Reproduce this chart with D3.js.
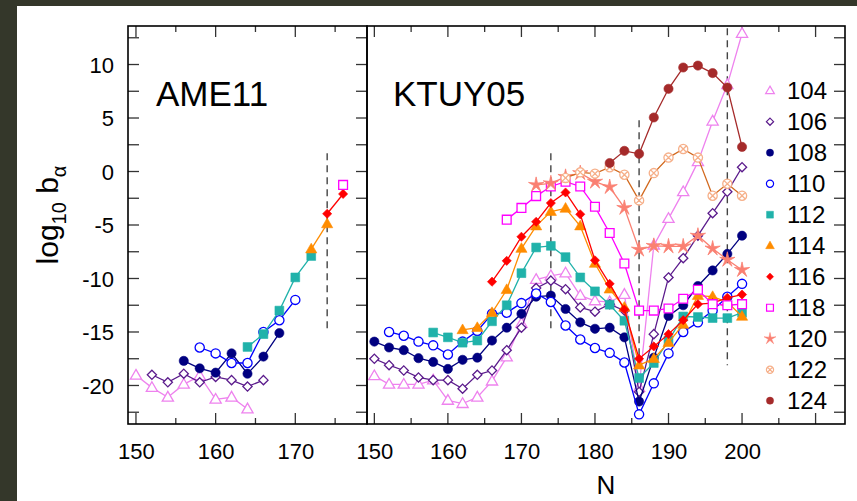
<!DOCTYPE html>
<html><head><meta charset="utf-8">
<script src="https://cdn.jsdelivr.net/npm/d3@7"></script>
<style>
html,body{margin:0;padding:0;background:#34372a;}
svg{display:block;}
text{font-family:"Liberation Sans",Arial,sans-serif;fill:#000;}
</style></head>
<body>
<svg id="chart" width="857" height="501"></svg>
<script>
// ---- data (log10 b_alpha vs neutron number N; one series per proton number Z) ----
const seriesZ = [104,106,108,110,112,114,116,118,120,122,124];
const nLeft  = [150,152,154,156,158,160,162,164,166,168,170,172,174,176];
const nRight = [150,152,154,156,158,160,162,164,166,168,170,172,174,176,178,180,182,184,186,188,190,192,194,196,198,200];

// AME11 panel
const a104 = [-19.05,-20.2,-21.1,-19.9,-19.1,-21.3,-21.1,-22.2,null,null,null,null,null,null];
const a106 = [null,-19.0,-19.7,-18.9,-19.7,-19.2,-19.5,-20.1,-19.5,null,null,null,null,null];
const a108 = [null,null,null,-17.7,-18.4,-18.8,-17.0,-18.9,-17.3,-15.1,null,null,null,null];
const a110 = [null,null,null,null,-16.45,-17.0,-17.9,-17.9,-15.0,-13.9,-12.0,null,null,null];
const a112 = [null,null,null,null,null,null,null,-16.4,-15.2,-13.0,-9.9,-7.9,null,null];
const a114 = [null,null,null,null,null,null,null,null,null,null,null,-7.25,-4.9,null];
const a116 = [null,null,null,null,null,null,null,null,null,null,null,null,-3.95,-2.1];
const a118 = [null,null,null,null,null,null,null,null,null,null,null,null,null,-1.25];

// KTUY05 panel
const k104 = [-19.1,-19.9,-19.9,-19.9,-19.5,-21.4,-21.7,-21.1,-19.6,-17.35,-14.2,-10.1,-9.75,-9.5,-11.6,-12.1,-12.2,-11.5,-20.2,-6.9,-4.4,-1.9,0.9,4.7,8.1,12.9];
const k106 = [-17.5,-18.1,-18.6,-19.25,-19.5,-19.5,-20.3,-19.0,-18.6,-16.7,-14.6,-10.9,-10.2,-11.0,-12.7,-13.1,-12.4,-13.0,-20.6,-15.2,-9.9,-8.1,-6.0,-3.9,-1.9,0.4];
const k108 = [-15.9,-16.45,-16.7,-17.45,-17.8,-18.45,-17.6,-17.4,-15.8,-14.6,-13.3,-11.7,-11.6,-12.85,-14.1,-14.7,-14.6,-15.5,-21.5,-17.4,-13.5,-12.5,-10.7,-9.25,-7.7,-6.0];
const k110 = [null,-15.0,-15.35,-15.9,-16.25,-17.1,-15.9,-14.9,-13.3,-13.2,-12.3,-11.4,-12.2,-14.4,-15.7,-16.5,-16.95,-17.85,-22.7,-19.8,-17.0,-15.0,-14.1,-13.0,-11.7,-10.5];
const k112 = [null,null,null,null,-15.05,-15.5,-16.0,-15.8,-14.0,-12.5,-9.5,-7.1,-6.95,-8.0,-9.9,-11.2,-12.45,-13.95,-19.3,-17.9,-15.8,-13.55,-13.6,-13.7,-13.7,-13.2];
const k114 = [null,null,null,null,null,null,-14.8,-14.6,-13.2,-11.05,-7.2,-5.1,-3.75,-3.45,-5.1,-8.6,-11.0,-12.7,-18.1,-17.5,-16.0,-14.3,-11.6,-11.7,-12.2,-13.55];
const k116 = [null,null,null,null,null,null,null,null,-10.3,-8.35,-6.1,-4.7,-2.95,-1.96,-4.0,-8.3,-10.5,-12.9,-17.5,-16.35,-15.2,-13.9,-12.4,-12.3,-11.8,-11.5];
const k118 = [null,null,null,null,null,null,null,null,null,-4.5,-3.4,-2.3,-1.4,-0.95,-1.4,-3.3,-5.75,-8.6,-13.0,-13.0,-12.8,-11.9,-11.05,-12.4,-12.5,-12.4];
const k120 = [null,null,null,null,null,null,null,null,null,null,null,-1.25,-1.1,-0.5,-0.15,-0.95,-1.45,-3.4,-7.3,-6.95,-7.0,-7.0,-6.0,-7.2,-8.25,-9.2];
const k122 = [null,null,null,null,null,null,null,null,null,null,null,null,null,-0.6,-0.08,-0.2,0.4,-0.3,-2.7,-0.15,1.3,2.1,1.3,-2.27,-1.15,-2.27];
const k124 = [null,null,null,null,null,null,null,null,null,null,null,null,null,null,null,null,0.79,1.93,1.65,5.05,7.73,9.72,9.9,9.2,7.85,2.3];

// shell-closure guide lines (N, from, to)
const guideLeft  = [[174, 1.7, -15.1]];
const guideRight = [[174, 1.7, -15.0], [186, 4.8, -17.4], [198, 13.4, -18.1]];

const xTicksLeft  = [150,155,160,165,170,175];
const xLabelsLeft = [150,160,170];
const xTicksRight = [150,155,160,165,170,175,180,185,190,195,200,205,210];
const xLabelsRight= [150,160,170,180,190,200];
const yTicks  = [-22.5,-20,-17.5,-15,-12.5,-10,-7.5,-5,-2.5,0,2.5,5,7.5,10,12.5];
const yLabels = [-20,-15,-10,-5,0,5,10];

const panelNames = ["AME11","KTUY05"];

// ---- style per series ----
const styles = {
  104:{c:"#ee82ee", lc:"#ee82ee", m:"tri",  open:true},
  106:{c:"#5b1b8c", lc:"#5b1b8c", m:"dia",  open:true},
  108:{c:"#000080", lc:"#000080", m:"circ", open:false},
  110:{c:"#0000ff", lc:"#0000ff", m:"circ", open:true},
  112:{c:"#20b2aa", lc:"#20b2aa", m:"sq",   open:false},
  114:{c:"#ff8c00", lc:"#ff8c00", m:"tri",  open:false},
  116:{c:"#ff0000", lc:"#ff0000", m:"dia",  open:false},
  118:{c:"#ff00ff", lc:"#ff00ff", m:"sq",   open:true},
  120:{c:"#fa8072", lc:"#fa8072", m:"star", open:false},
  122:{c:"#f6b08a", lc:"#d2691e", m:"circx",open:true},
  124:{c:"#a52a2a", lc:"#a52a2a", m:"circ", open:false}
};

function markerPath(type, s){
  const p = d3.path();
  if(type==="circ" || type==="circx"){
    const r = 4.6*s; p.moveTo(r,0); p.arc(0,0,r,0,2*Math.PI);
    if(type==="circx"){ const a=r*0.7; p.moveTo(-a,-a); p.lineTo(a,a); p.moveTo(-a,a); p.lineTo(a,-a); }
  } else if(type==="sq"){
    const h=4.4*s; p.rect(-h,-h,2*h,2*h);
  } else if(type==="tri"){
    const h=5.6*s; p.moveTo(0,-h*1.05); p.lineTo(h*1.0,h*0.68); p.lineTo(-h*1.0,h*0.68); p.closePath();
  } else if(type==="dia"){
    const h=4.6*s; p.moveTo(0,-h); p.lineTo(h,0); p.lineTo(0,h); p.lineTo(-h,0); p.closePath();
  } else if(type==="star"){
    const R=8*s, r=2.3*s;
    for(let i=0;i<10;i++){
      const ang = -Math.PI/2 + i*Math.PI/5;
      const rr = i%2===0?R:r;
      const x=rr*Math.cos(ang), y=rr*Math.sin(ang);
      if(i===0) p.moveTo(x,y); else p.lineTo(x,y);
    }
    p.closePath();
  }
  return p.toString();
}

const svg = d3.select("#chart");
svg.append("rect").attr("x",17).attr("y",6).attr("width",857-17).attr("height",501-6).attr("fill","#fff");

const y = d3.scaleLinear().domain([-23.6,13.6]).range([424,26]);
const xL = d3.scaleLinear().domain([149,179]).range([128,367]);
const xR = d3.scaleLinear().domain([149,214]).range([367,845]);

const panels = [
  {x:xL, grid:nLeft, data:{104:a104,106:a106,108:a108,110:a110,112:a112,114:a114,116:a116,118:a118},
   ticks:xTicksLeft, labels:xLabelsLeft, guides:guideLeft, name:panelNames[0], nameX:156},
  {x:xR, grid:nRight, data:{104:k104,106:k106,108:k108,110:k110,112:k112,114:k114,116:k116,118:k118,120:k120,122:k122,124:k124},
   ticks:xTicksRight, labels:xLabelsRight, guides:guideRight, name:panelNames[1], nameX:393}
];

const tickColor = "#333";
const fmt = d => String(d);
panels.forEach((P,pi)=>{
  const g = svg.append("g");
  const [x0,x1] = P.x.range();
  P.ticks.forEach(t=>{
    const major = P.labels.includes(t) || (pi===1 && t===210);
    const len = major?11:6;
    const xx = P.x(t);
    g.append("line").attr("x1",xx).attr("x2",xx).attr("y1",424).attr("y2",424-len).attr("stroke",tickColor).attr("stroke-width",1.3);
    g.append("line").attr("x1",xx).attr("x2",xx).attr("y1",26).attr("y2",26+len).attr("stroke",tickColor).attr("stroke-width",1.3);
  });
  const bottomAxis = d3.axisBottom(P.x).tickValues(P.labels).tickSize(0).tickPadding(0).tickFormat(fmt);
  const ax = g.append("g").attr("transform","translate(0,424)").call(bottomAxis);
  ax.select(".domain").remove();
  ax.selectAll("text").attr("y",35).attr("dy",null).style("font-size","22px").style("font-family","'Liberation Sans',Arial,sans-serif").attr("fill","#000");
  yTicks.forEach(t=>{
    if(pi===0){
      g.append("line").attr("x1",x0).attr("x2",x0+11).attr("y1",y(t)).attr("y2",y(t)).attr("stroke",tickColor).attr("stroke-width",1.3);
      g.append("line").attr("x1",x1-11).attr("x2",x1).attr("y1",y(t)).attr("y2",y(t)).attr("stroke",tickColor).attr("stroke-width",1.3);
    } else {
      g.append("line").attr("x1",x1-11).attr("x2",x1).attr("y1",y(t)).attr("y2",y(t)).attr("stroke",tickColor).attr("stroke-width",1.3);
    }
  });
  g.append("rect").attr("x",x0).attr("y",26).attr("width",x1-x0).attr("height",424-26)
    .attr("fill","none").attr("stroke","#000").attr("stroke-width",1.6);
  g.append("text").attr("x",P.nameX).attr("y",106).text(P.name).style("font-size","35px");
  P.guides.forEach(gd=>{
    g.append("line").attr("x1",P.x(gd[0])).attr("x2",P.x(gd[0])).attr("y1",y(gd[1])).attr("y2",y(gd[2]))
      .attr("stroke","#444").attr("stroke-width",1.4).attr("stroke-dasharray","7,5");
  });
  seriesZ.forEach(z=>{
    const vals = P.data[z]; if(!vals) return;
    const st = styles[z];
    const pts = P.grid.map((n,i)=>({n, v:vals[i]})).filter(d=>d.v!==null);
    const line = d3.line().x(d=>P.x(d.n)).y(d=>y(d.v));
    g.append("path").attr("d",line(pts)).attr("fill","none").attr("stroke",st.lc).attr("stroke-width",1.3);
    g.selectAll(null).data(pts).enter().append("path")
      .attr("transform",d=>`translate(${P.x(d.n)},${y(d.v)})`)
      .attr("d",markerPath(st.m,1))
      .attr("fill",st.open?"#fff":st.c)
      .attr("stroke",st.c).attr("stroke-width",st.open?1.3:(st.m==="star"?0.8:0.6));
  });
});

const yAx = d3.axisLeft(y).tickValues(yLabels).tickSize(0).tickPadding(0).tickFormat(fmt);
const ya = svg.append("g").attr("transform","translate(114,0)").call(yAx);
ya.select(".domain").remove();
ya.selectAll("text").attr("x",0).attr("dy","0.36em").style("font-size","22px").style("font-family","'Liberation Sans',Arial,sans-serif").attr("fill","#000");

const lg = svg.append("g");
seriesZ.forEach((z,i)=>{
  const st = styles[z];
  const yy = 90.7 + i*31.0;
  lg.append("path").attr("transform",`translate(770,${yy})`).attr("d",markerPath(st.m,0.78))
    .attr("fill",st.open?"#fff":st.c).attr("stroke",st.c).attr("stroke-width",st.open?1.2:0.5);
  lg.append("text").attr("x",787).attr("y",yy).attr("dy","0.36em").text(z).style("font-size","24px");
});

svg.append("text").attr("x",606).attr("y",494).attr("text-anchor","middle").text("N").style("font-size","26px");
const yt = svg.append("text").attr("transform","translate(58,215) rotate(-90)").attr("text-anchor","middle").style("font-size","30px");
yt.append("tspan").text("log");
yt.append("tspan").attr("dy",8).style("font-size","20px").text("10");
yt.append("tspan").attr("dy",-8).text(" b");
yt.append("tspan").attr("dy",8).style("font-size","20px").text("α");
</script>
</body></html>
